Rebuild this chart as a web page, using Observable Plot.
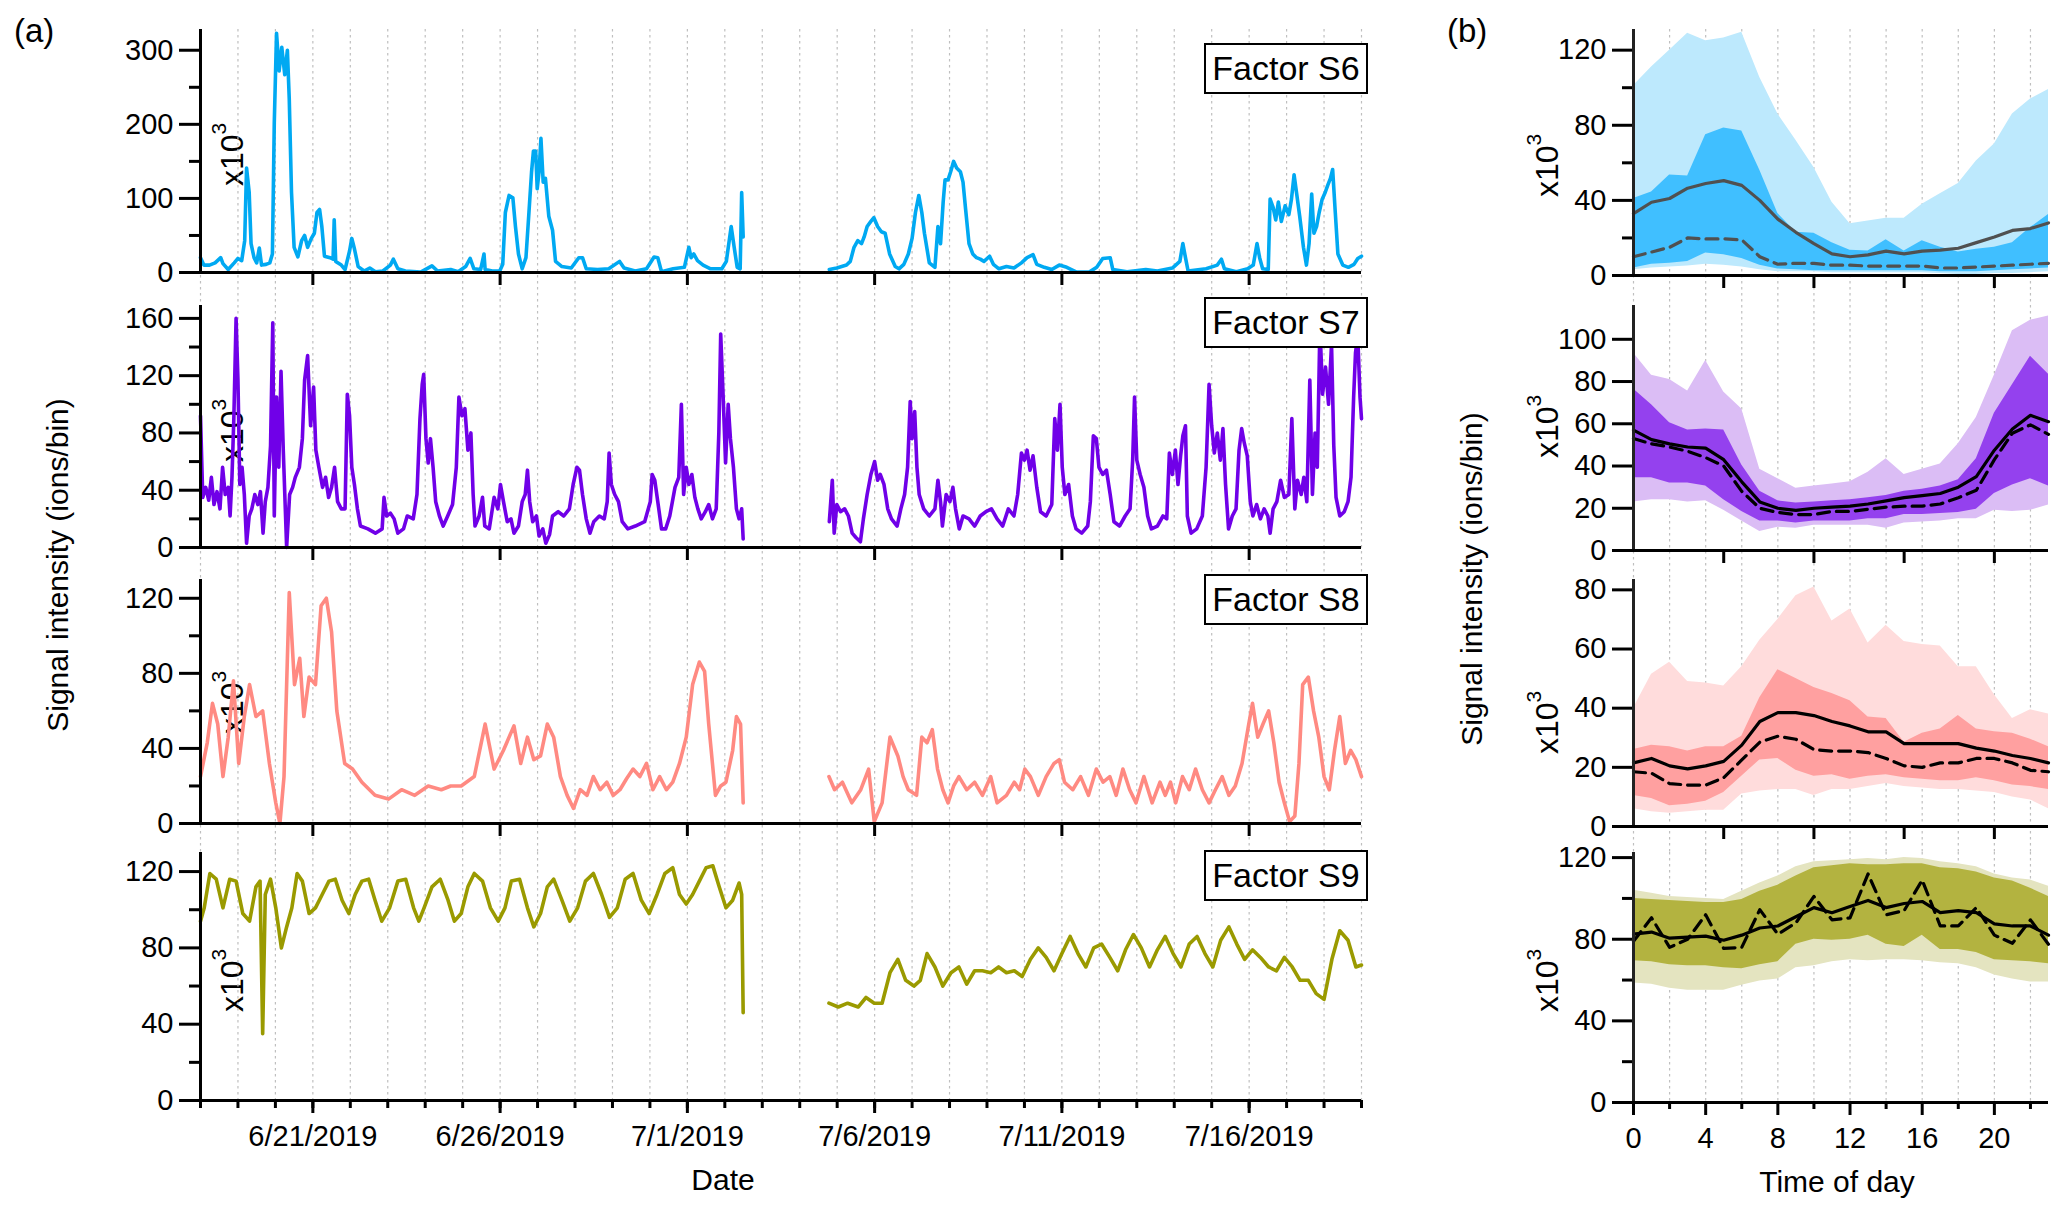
<!DOCTYPE html>
<html>
<head>
<meta charset="utf-8">
<script src="https://cdn.jsdelivr.net/npm/d3@7"></script>
<script src="https://cdn.jsdelivr.net/npm/@observablehq/plot@0.6"></script>
<style>
  body { margin: 0; background: #fff; font-family: "Liberation Sans", Arial, sans-serif; }
  #fig { position: relative; width: 2067px; height: 1218px; overflow: hidden; }
  .lbl { position: absolute; white-space: nowrap; color: #000; line-height: 1; }
  .ctr { transform: translate(-50%, -50%); }
  .rot { transform: translate(-50%, -50%) rotate(-90deg); }
  .exp { transform-origin: left top; transform: rotate(-90deg); font-size: 32px; z-index: 0; }
  .exp span { font-size: 21px; position: relative; top: -17px; }
  .box { position: absolute; width: 160px; height: 47px; line-height: 47px; border: 2px solid #000;
         background: #fff; text-align: center; font-size: 34px; z-index: 3; }
</style>
</head>
<body>
<div id="fig"></div>
<script>
// ---- panel (a): time series, x = days since 6/18/2019 00:00 ----
const dateTickDays = [3, 8, 13, 18, 23, 28];
const dateTickLabels = ["6/21/2019", "6/26/2019", "7/1/2019", "7/6/2019", "7/11/2019", "7/16/2019"];

const s6 = [[0,20],[0.09,10],[0.24,10],[0.39,13],[0.54,20],[0.6,12],[0.74,4],[0.9,13],[1.0,19],[1.1,16],[1.18,43],[1.23,141],[1.3,108],[1.35,39],[1.43,20],[1.5,13],[1.57,33],[1.63,10],[1.75,11],[1.85,13],[1.92,25],[1.97,202],[2.03,323],[2.1,272],[2.17,304],[2.25,267],[2.32,300],[2.37,234],[2.43,108],[2.5,34],[2.6,21],[2.7,43],[2.78,50],[2.86,34],[2.96,46],[3.04,53],[3.11,81],[3.18,85],[3.24,62],[3.31,22],[3.46,20],[3.54,18],[3.57,71],[3.61,15],[3.76,10],[3.86,4],[3.98,29],[4.04,46],[4.11,32],[4.21,8],[4.37,2],[4.52,6],[4.67,1],[4.87,2],[5.07,10],[5.15,18],[5.27,5],[5.47,2],[5.88,0.5],[6.18,9],[6.33,2],[6.68,4],[6.88,1],[7.08,8],[7.2,19],[7.3,5],[7.48,4],[7.57,25],[7.6,4],[7.79,2],[7.99,2],[8.07,11],[8.14,81],[8.24,104],[8.34,101],[8.41,62],[8.49,25],[8.59,5],[8.69,20],[8.77,81],[8.84,136],[8.89,164],[8.95,164],[8.99,113],[9.04,136],[9.09,181],[9.15,122],[9.21,127],[9.3,76],[9.4,57],[9.48,15],[9.65,8],[9.9,6],[10.1,20],[10.2,20],[10.3,5],[10.6,4],[10.9,5],[11.19,15],[11.31,6],[11.61,2],[11.91,5],[12.11,21],[12.21,20],[12.31,1],[12.62,5],[12.92,7],[13.04,34],[13.1,20],[13.17,25],[13.27,16],[13.42,10],[13.62,5],[13.92,5],[14.04,15],[14.17,62],[14.25,34],[14.33,7],[14.41,5],[14.45,108],[14.49,48],
  [15.6,null],
  [16.79,4],[16.99,6],[17.25,10],[17.35,15],[17.45,34],[17.55,43],[17.65,39],[17.72,48],[17.8,62],[17.9,69],[17.98,74],[18.08,62],[18.18,55],[18.28,53],[18.4,25],[18.55,8],[18.65,5],[18.78,11],[18.9,25],[19.0,46],[19.09,81],[19.18,104],[19.26,81],[19.33,53],[19.46,13],[19.61,7],[19.69,62],[19.76,39],[19.83,95],[19.88,125],[19.96,125],[20.03,136],[20.11,150],[20.19,141],[20.29,136],[20.36,122],[20.43,85],[20.52,39],[20.62,25],[20.72,20],[20.82,18],[20.92,15],[21.07,22],[21.17,11],[21.32,5],[21.52,8],[21.72,6],[21.92,13],[22.07,20],[22.23,24],[22.33,11],[22.53,7],[22.73,4],[22.93,10],[23.13,7],[23.38,1],[23.73,0.5],[23.93,7],[24.09,19],[24.29,20],[24.36,4],[24.74,1],[25.24,4],[25.55,2],[25.95,6],[26.15,15],[26.23,39],[26.3,20],[26.37,2],[26.85,5],[27.15,10],[27.26,18],[27.34,5],[27.66,1],[27.96,5],[28.11,10],[28.21,39],[28.28,20],[28.36,5],[28.51,4],[28.56,99],[28.64,88],[28.71,71],[28.78,95],[28.86,69],[28.96,90],[29.06,78],[29.13,99],[29.2,132],[29.27,106],[29.35,76],[29.45,34],[29.53,10],[29.6,39],[29.67,106],[29.73,53],[29.8,62],[29.87,81],[29.95,99],[30.03,108],[30.1,118],[30.17,127],[30.23,139],[30.3,81],[30.37,25],[30.5,10],[30.65,7],[30.8,11],[30.9,19],[31.0,22]];

const s7 = [[0,92],[0.06,35],[0.14,42],[0.22,33],[0.29,49],[0.36,30],[0.44,39],[0.52,27],[0.59,56],[0.66,37],[0.74,42],[0.79,22],[0.84,49],[0.89,90],[0.95,160],[1.0,117],[1.05,44],[1.11,56],[1.17,37],[1.23,3],[1.3,22],[1.37,27],[1.45,37],[1.53,30],[1.6,39],[1.67,10],[1.73,32],[1.8,42],[1.87,71],[1.93,157],[1.97,22],[2.03,105],[2.09,56],[2.15,123],[2.21,68],[2.3,0],[2.38,37],[2.46,42],[2.53,49],[2.64,56],[2.72,76],[2.78,117],[2.86,134],[2.94,85],[3.02,112],[3.08,68],[3.16,56],[3.26,42],[3.34,49],[3.42,35],[3.5,42],[3.58,56],[3.66,32],[3.76,27],[3.86,27],[3.92,107],[3.98,92],[4.04,56],[4.11,44],[4.19,27],[4.27,15],[4.47,13],[4.67,10],[4.85,13],[4.9,35],[4.97,22],[5.07,24],[5.17,20],[5.27,10],[5.42,13],[5.52,22],[5.68,20],[5.78,37],[5.86,90],[5.92,114],[5.96,121],[6.02,76],[6.08,59],[6.14,76],[6.21,56],[6.28,32],[6.38,22],[6.48,15],[6.6,22],[6.73,30],[6.83,56],[6.9,105],[6.98,92],[7.06,97],[7.14,68],[7.22,80],[7.28,37],[7.33,15],[7.44,22],[7.53,35],[7.59,15],[7.71,13],[7.84,35],[7.94,27],[8.01,44],[8.09,32],[8.19,18],[8.29,20],[8.37,10],[8.49,15],[8.59,32],[8.67,37],[8.73,54],[8.79,32],[8.87,18],[8.97,22],[9.04,8],[9.14,13],[9.22,3],[9.32,9],[9.4,22],[9.55,25],[9.7,22],[9.85,27],[9.95,44],[10.05,56],[10.12,54],[10.2,37],[10.3,20],[10.4,10],[10.5,18],[10.65,22],[10.78,20],[10.86,32],[10.91,66],[10.97,44],[11.06,37],[11.16,32],[11.26,18],[11.41,13],[11.61,15],[11.86,18],[12.01,32],[12.06,51],[12.13,47],[12.21,32],[12.31,13],[12.42,13],[12.53,22],[12.67,42],[12.77,49],[12.84,100],[12.9,37],[12.97,56],[13.04,44],[13.12,51],[13.2,35],[13.28,27],[13.37,20],[13.48,25],[13.57,30],[13.67,20],[13.77,27],[13.84,80],[13.89,149],[13.95,109],[14.02,59],[14.09,100],[14.15,76],[14.23,56],[14.31,27],[14.38,20],[14.45,27],[14.49,6],
  [15.6,null],
  [16.79,18],[16.87,47],[16.92,10],[16.99,30],[17.09,25],[17.2,27],[17.3,22],[17.4,10],[17.5,7],[17.62,4],[17.7,20],[17.8,37],[17.9,51],[18.0,60],[18.08,47],[18.15,51],[18.25,44],[18.35,27],[18.45,20],[18.6,15],[18.7,27],[18.8,37],[18.88,56],[18.95,102],[19.0,76],[19.07,95],[19.13,56],[19.19,37],[19.31,27],[19.46,22],[19.61,27],[19.69,47],[19.76,32],[19.81,15],[19.91,37],[20.01,32],[20.09,42],[20.16,27],[20.26,13],[20.36,22],[20.52,20],[20.67,15],[20.82,22],[20.97,25],[21.12,27],[21.27,20],[21.42,15],[21.57,27],[21.72,22],[21.82,37],[21.92,66],[22.0,61],[22.07,68],[22.15,54],[22.23,64],[22.33,42],[22.43,25],[22.58,22],[22.73,30],[22.81,90],[22.88,68],[22.95,100],[23.01,56],[23.08,37],[23.18,44],[23.28,22],[23.38,13],[23.53,10],[23.69,15],[23.76,32],[23.84,78],[23.92,76],[23.99,56],[24.09,51],[24.19,54],[24.29,37],[24.39,18],[24.54,15],[24.69,22],[24.82,27],[24.89,61],[24.94,105],[25.0,61],[25.09,51],[25.19,42],[25.29,22],[25.39,13],[25.55,15],[25.7,22],[25.8,20],[25.87,66],[25.95,51],[26.03,68],[26.1,44],[26.17,64],[26.23,78],[26.3,85],[26.35,22],[26.45,10],[26.6,13],[26.75,22],[26.85,56],[26.93,114],[27.0,85],[27.07,66],[27.15,80],[27.23,61],[27.3,83],[27.37,44],[27.45,13],[27.55,22],[27.65,27],[27.73,68],[27.8,83],[27.87,73],[27.95,64],[28.03,32],[28.1,22],[28.2,30],[28.3,20],[28.4,27],[28.5,22],[28.56,10],[28.64,27],[28.74,32],[28.84,47],[28.94,35],[29.06,37],[29.14,90],[29.22,27],[29.29,47],[29.39,37],[29.46,49],[29.54,32],[29.62,117],[29.69,37],[29.76,80],[29.82,56],[29.89,155],[29.96,107],[30.04,126],[30.12,100],[30.2,142],[30.26,71],[30.32,35],[30.42,22],[30.54,25],[30.64,32],[30.72,49],[30.79,105],[30.84,136],[30.9,148],[30.96,105],[31.0,90]];

const s8 = [[0,25],[0.18,43],[0.32,64],[0.46,53],[0.6,25],[0.74,46],[0.88,76],[1.02,32],[1.17,57],[1.31,74],[1.48,57],[1.66,60],[1.84,32],[2.01,11],[2.12,0],[2.23,25],[2.37,123],[2.51,74],[2.65,88],[2.76,57],[2.9,78],[3.07,74],[3.22,116],[3.36,120],[3.5,102],[3.64,60],[3.85,32],[4.06,29],[4.31,22],[4.66,15],[5.02,13],[5.37,18],[5.72,15],[6.08,20],[6.43,18],[6.68,20],[6.96,20],[7.31,25],[7.6,53],[7.84,29],[8.09,39],[8.37,52],[8.55,32],[8.73,46],[8.9,34],[9.08,36],[9.26,53],[9.43,46],[9.61,25],[9.79,15],[9.96,8],[10.14,18],[10.32,15],[10.49,25],[10.67,18],[10.85,22],[11.02,15],[11.2,18],[11.38,24],[11.55,29],[11.73,25],[11.91,32],[12.08,18],[12.26,25],[12.44,18],[12.61,22],[12.79,32],[12.97,46],[13.14,74],[13.32,86],[13.46,81],[13.57,53],[13.75,15],[13.89,20],[14.03,22],[14.21,39],[14.31,57],[14.42,53],[14.49,11],
  [15.6,null],
  [16.78,25],[16.93,18],[17.14,22],[17.39,11],[17.63,18],[17.84,29],[17.99,1],[18.2,11],[18.41,46],[18.62,36],[18.76,25],[18.9,18],[19.12,15],[19.26,46],[19.4,43],[19.54,50],[19.68,29],[19.82,18],[19.96,11],[20.11,20],[20.25,25],[20.46,18],[20.67,22],[20.88,15],[21.1,25],[21.27,11],[21.52,15],[21.73,22],[21.87,18],[22.01,29],[22.16,25],[22.37,15],[22.58,25],[22.79,32],[22.93,34],[23.07,22],[23.29,18],[23.5,25],[23.71,15],[23.92,29],[24.1,22],[24.28,25],[24.45,15],[24.63,29],[24.81,18],[24.98,11],[25.19,25],[25.41,11],[25.62,22],[25.76,15],[25.9,22],[26.04,11],[26.22,25],[26.4,18],[26.57,29],[26.75,18],[26.93,11],[27.1,18],[27.28,25],[27.46,15],[27.63,20],[27.81,32],[27.99,53],[28.09,64],[28.23,46],[28.37,53],[28.52,60],[28.66,43],[28.8,22],[28.94,11],[29.08,1],[29.22,4],[29.33,32],[29.43,74],[29.58,78],[29.72,60],[29.86,46],[30.0,25],[30.14,18],[30.28,39],[30.42,57],[30.57,32],[30.71,39],[30.85,34],[31.0,25]];

const s9 = [[0,94],[0.1,101],[0.25,119],[0.42,116],[0.6,101],[0.78,116],[0.95,115],[1.13,98],[1.31,94],[1.48,112],[1.59,115],[1.66,35],[1.73,108],[1.87,116],[2.01,101],[2.16,80],[2.3,91],[2.44,101],[2.58,119],[2.72,115],[2.9,98],[3.07,101],[3.25,108],[3.43,115],[3.6,116],[3.78,105],[3.96,98],[4.13,108],[4.31,115],[4.49,116],[4.66,105],[4.84,94],[5.05,101],[5.27,115],[5.48,116],[5.69,101],[5.83,94],[5.97,101],[6.18,112],[6.4,116],[6.61,105],[6.78,94],[6.96,98],[7.14,112],[7.31,119],[7.53,115],[7.74,101],[7.95,94],[8.13,101],[8.3,115],[8.52,116],[8.73,101],[8.9,91],[9.08,98],[9.26,112],[9.43,116],[9.65,105],[9.86,94],[10.07,101],[10.28,115],[10.49,119],[10.71,108],[10.92,96],[11.13,101],[11.34,116],[11.55,119],[11.77,105],[11.98,98],[12.19,108],[12.4,119],[12.61,122],[12.79,108],[12.97,103],[13.14,108],[13.32,115],[13.5,122],[13.68,123],[13.85,112],[14.03,101],[14.21,105],[14.38,114],[14.45,108],[14.49,46],
  [15.6,null],
  [16.78,51],[17.03,49],[17.28,51],[17.56,49],[17.77,54],[17.99,51],[18.2,51],[18.41,67],[18.62,74],[18.83,63],[19.05,60],[19.22,63],[19.4,77],[19.61,70],[19.82,60],[20.04,67],[20.25,70],[20.46,61],[20.67,68],[20.88,68],[21.1,67],[21.31,70],[21.52,67],[21.73,68],[21.94,65],[22.16,74],[22.37,80],[22.58,75],[22.79,68],[23.0,77],[23.22,86],[23.43,77],[23.64,70],[23.85,80],[24.06,82],[24.28,75],[24.49,68],[24.7,79],[24.91,87],[25.12,80],[25.34,70],[25.55,79],[25.76,86],[25.97,77],[26.18,70],[26.4,82],[26.61,86],[26.82,77],[27.03,70],[27.24,84],[27.46,91],[27.67,82],[27.88,74],[28.09,79],[28.3,75],[28.52,70],[28.73,68],[28.94,75],[29.15,70],[29.36,63],[29.58,63],[29.79,56],[30.0,53],[30.21,74],[30.42,89],[30.64,84],[30.85,70],[31.0,71]];

// ---- panel (b): diurnal profiles, x = hour of day ----
const hours = [0,1,2,3,4,5,6,7,8,9,10,11,12,13,14,15,16,17,18,19,20,21,22,23];

const d6p95 = [101,111,120,129,125,126.5,129.5,105.5,86,72,57.5,39,27.5,29,30.5,30.5,38,43.5,49,61,70,86,94,99];
const d6p75 = [41,44.5,53.5,53,75,78.5,77,56,33,23,22.5,17.5,13.5,13,19,13,18.5,15,12.5,14,15,17.5,25.5,32.5];
const d6p25 = [4,6,6.5,7.5,12,11,9,5.5,3.5,3,2.5,2.5,2.5,2.5,2.5,2.5,2.5,2,2,2,2.5,3,3.5,4];
const d6p5 = [3,4,4.5,5,6,5.5,4.5,3,2,2,2,1.5,1.5,1.5,1.5,1.5,1.5,1,0.5,0.5,1,1,1.5,2];
const d6mean = [33,39,41,46.5,49,50.5,48,40,30,23,17,11.5,10,11,13,11.5,13,13.5,14.5,17.5,20.5,24,25,28];
const d6med = [10,12.5,15,20,19.5,19.5,19,10,6,6.5,6.5,5.5,5.5,5,5,5,5,4,4,4.5,5,5.5,6,6.5];

const d7p95 = [93.5,83,81,75.5,90,75,67,38.5,34,29.5,30.5,31.5,32.5,37,43.5,36,38.5,41,50.5,63,83,104,109,111];
const d7p75 = [76.5,69,60.5,57,57.5,57,40.5,28,23.5,22.5,23,23.5,24,25,26,28,29,30.5,33.5,43.5,65,78.5,92,83.5];
const d7p25 = [34.5,34.5,32,32,30.5,24,18.5,14,14,13,14,14,14,15,15,17,17,17.5,18,19.5,27,31,34,30.5];
const d7p5 = [23,24,24,23,23.5,19,14,9,11,10.5,12,12,12,12,10.5,13,13.5,14,15,15,19,18.5,19,21.5];
const d7mean = [57,52.5,50.5,49,48.5,43,32.5,23,20,19,20,20.5,21,22,23.5,25,26,27,30,35,47.5,57.5,64,61];
const d7med = [53,50.5,49,47,44,40,28,20,18,17,17,18.5,18.5,19.5,20.5,21,21,22,25,28.5,43,55.5,59.5,55];

const d8p95 = [40,51.5,55.5,49,48.5,47.5,54,63,70,78,81,69.5,73.5,62,68,62.5,61.5,61,54,54,44.5,36.5,39.5,38];
const d8p75 = [26,27.5,27,25.5,27,27,30.5,43.5,53,50,47,45,42.5,37,36.5,28.5,31.5,33,37.5,33,32,31.5,29.5,27];
const d8p25 = [10.5,9.5,7,7.5,8.5,11.5,17,22.5,23,19,17,17.5,16,17,17.5,16.5,16,15.5,15.5,16.5,15.5,14,13.5,12.5];
const d8p5 = [6,5,4.5,5,5.5,5.5,11,12,12.5,12.5,10.5,12.5,12.5,13.5,14.5,13.5,13,12.5,12.5,12,11.5,10,9,6];
const d8mean = [21.5,23,20.5,19.5,20.5,22,27.5,35.5,38.5,38.5,37.5,35.5,34,32,32,28,28,28,28,26.5,25.5,24,23,21.5];
const d8med = [18.5,18,14.5,14,14,16.5,22.5,28.5,30.5,29.5,26,25.5,25.5,25,23,20.5,20,21.5,21.5,23,23,21.5,19,18.5];

const d9p95 = [104,102.5,101,100.5,100,99.5,103.5,107.5,111,115.5,118,118.5,119,119.5,119,120,119.5,118,117,115.5,112,110,109,106];
const d9p75 = [100,99.5,99,98.5,98,98,99.5,103.5,106.5,111,115,116,117,116.5,116.5,117,117,115,114.5,113,110,108.5,105,101];
const d9p25 = [69.5,69,67.5,67,67,66,65.5,67.5,69,77.5,80,79.5,80,82,77.5,76.5,82,75,75,73.5,70,69.5,69,68];
const d9p5 = [58.5,58,56,55,55,55,57.5,59.5,60.5,66,67,69,70,69.5,70,70,69.5,68.5,68,66,62.5,60.5,59,59];
const d9mean = [82.5,83.5,80.5,81,81.5,79.5,82,85.5,86.5,91,95.5,93,96,99,95.5,97.5,98.5,93,94,93,87.5,86.5,86.5,82];
const d9med = [79,90.5,76,80,92,75.5,76,94.5,82.5,88,101,89.5,90.5,112,92,94,109,86.5,86.5,95.5,82,78,89.5,77.5];

const fig = document.getElementById("fig");
const svgStyle = {background: "transparent", overflow: "visible", color: "black",
  fontFamily: "'Liberation Sans', Arial, sans-serif"};

function place(node, left, top, z) {
  node.style.position = "absolute";
  node.style.left = left + "px";
  node.style.top = top + "px";
  node.style.zIndex = z;
  fig.append(node);
}

function seriesPanel(series, color, yMax, majors, minors, top, bottom, gap, last) {
  const mt = 12, mb = last ? 80 : gap + 2;
  const rows = series.map(([d, v]) => ({d, v}));
  const chart = Plot.plot({
    width: 1380, height: bottom - top + mt + mb,
    marginLeft: 200, marginRight: 19, marginTop: mt, marginBottom: mb,
    x: {domain: [0, 31]},
    y: {domain: [0, yMax]},
    style: svgStyle,
    marks: [
      Plot.ruleX(d3.range(0, 32), {stroke: "#bfbfbf", strokeWidth: 1.2, strokeDasharray: "2.5,3.5", insetBottom: last ? 0 : -gap}),
      Plot.line(rows, {x: "d", y: "v", stroke: color, strokeWidth: 3.6, strokeLinejoin: "round"}),
      Plot.axisY(majors, {tickSize: 21, tickPadding: 6, fontSize: 29, strokeWidth: 3, label: null}),
      Plot.axisY(minors, {tickSize: 11, tickFormat: () => "", strokeWidth: 3, label: null}),
      last ? Plot.axisX(d3.range(0, 32), {tickSize: 8, tickFormat: () => "", strokeWidth: 3, label: null}) : null,
      Plot.axisX(dateTickDays, {tickSize: 13, tickPadding: 12, fontSize: 29, strokeWidth: 3, label: null,
        tickFormat: d => last ? dateTickLabels[dateTickDays.indexOf(d)] : ""}),
      Plot.ruleX([0], {strokeWidth: 3}),
      Plot.ruleY([0], {strokeWidth: 3, insetLeft: -21})
    ].filter(Boolean)
  });
  place(chart, 0, top - mt, 1);
}

function diurnalPanel(p5, p25, p75, p95, mean, med, light, dark, lineColor, yMax, majors, minors, top, bottom, gap, last) {
  const mt = 12, mb = last ? 80 : gap + 2;
  const rows = hours.map((h, i) => ({h, p5: p5[i], p25: p25[i], p75: p75[i], p95: p95[i], mean: mean[i], med: med[i]}));
  const chart = Plot.plot({
    width: 507, height: bottom - top + mt + mb,
    marginLeft: 73, marginRight: 19, marginTop: mt, marginBottom: mb,
    x: {domain: [0, 23]},
    y: {domain: [0, yMax]},
    style: svgStyle,
    marks: [
      Plot.ruleX([0,2,4,6,8,10,12,14,16,18,20,22], {stroke: "#bfbfbf", strokeWidth: 1.2, strokeDasharray: "2.5,3.5", insetBottom: last ? 0 : -gap}),
      Plot.areaY(rows, {x: "h", y1: "p5", y2: "p95", fill: light}),
      Plot.areaY(rows, {x: "h", y1: "p25", y2: "p75", fill: dark}),
      Plot.line(rows, {x: "h", y: "mean", stroke: lineColor, strokeWidth: 3.2}),
      Plot.line(rows, {x: "h", y: "med", stroke: lineColor, strokeWidth: 3.2, strokeDasharray: "12,7"}),
      Plot.axisY(majors, {tickSize: 21, tickPadding: 6, fontSize: 29, strokeWidth: 3, label: null}),
      minors.length ? Plot.axisY(minors, {tickSize: 11, tickFormat: () => "", strokeWidth: 3, label: null}) : null,
      last
        ? Plot.axisX([0,4,8,12,16,20], {tickSize: 13, tickPadding: 12, fontSize: 29, strokeWidth: 3, label: null})
        : Plot.axisX([5,10,15,20], {tickSize: 13, tickFormat: () => "", strokeWidth: 3, label: null}),
      last ? Plot.axisX([2,6,10,14,18,22], {tickSize: 7, tickFormat: () => "", strokeWidth: 3, label: null}) : null,
      Plot.ruleX([0], {strokeWidth: 3, stroke: "#222"}),
      Plot.ruleY([0], {strokeWidth: 3, insetLeft: -21})
    ].filter(Boolean)
  });
  place(chart, 1560, top - mt, 1);
}

seriesPanel(s6, "#00a9f2", 328, [0,100,200,300], [50,150,250], 29, 272, 33, false);
seriesPanel(s7, "#7000e8", 169, [0,40,80,120,160], [20,60,100,140], 305, 547, 32, false);
seriesPanel(s8, "#ff8a82", 130, [0,40,80,120], [20,60,100], 579, 823, 29, false);
seriesPanel(s9, "#9a9a00", 130, [0,40,80,120], [20,60,100], 852, 1100, 0, true);

diurnalPanel(d6p5, d6p25, d6p75, d6p95, d6mean, d6med, "#bde9fd", "#40bfff", "#505050", 131, [0,40,80,120], [20,60,100], 29, 275, 30, false);
diurnalPanel(d7p5, d7p25, d7p75, d7p95, d7mean, d7med, "#dbbdf5", "#9441ee", "#000", 116, [0,20,40,60,80,100], [], 305, 550, 29, false);
diurnalPanel(d8p5, d8p25, d8p75, d8p95, d8mean, d8med, "#ffdcdc", "#ffa0a0", "#000", 83.5, [0,20,40,60,80], [], 579, 826, 26, false);
diurnalPanel(d9p5, d9p25, d9p75, d9p95, d9mean, d9med, "#e4e4c0", "#b3b340", "#000", 122.5, [0,40,80,120], [20,60,100], 852, 1102, 0, true);

// ---- text, boxes, exponent labels ----
function label(html, cls, left, top, size) {
  const el = document.createElement("div");
  el.className = "lbl " + cls;
  el.innerHTML = html;
  el.style.left = left + "px";
  el.style.top = top + "px";
  if (size) el.style.fontSize = size + "px";
  fig.append(el);
  return el;
}

label("(a)", "", 14, 14, 33);
label("(b)", "", 1447, 14, 33);
label("Date", "ctr", 723, 1180, 30);
label("Time of day", "ctr", 1837, 1182, 30);
label("Signal intensity (ions/bin)", "rot", 58, 565, 30);
label("Signal intensity (ions/bin)", "rot", 1472, 579, 30);

const expSpots = [[216,186],[216,462],[216,734],[216,1012],[1531,197],[1531,458],[1531,754],[1531,1012]];
expSpots.forEach(([x, y]) => label("x10<span>3</span>", "exp", x, y));

const factorNames = ["Factor S6", "Factor S7", "Factor S8", "Factor S9"];
const factorTops = [43, 297, 574, 850];
factorNames.forEach((t, i) => {
  const b = document.createElement("div");
  b.className = "box";
  b.textContent = t;
  b.style.left = "1204px";
  b.style.top = factorTops[i] + "px";
  fig.append(b);
});
</script>
</body>
</html>
